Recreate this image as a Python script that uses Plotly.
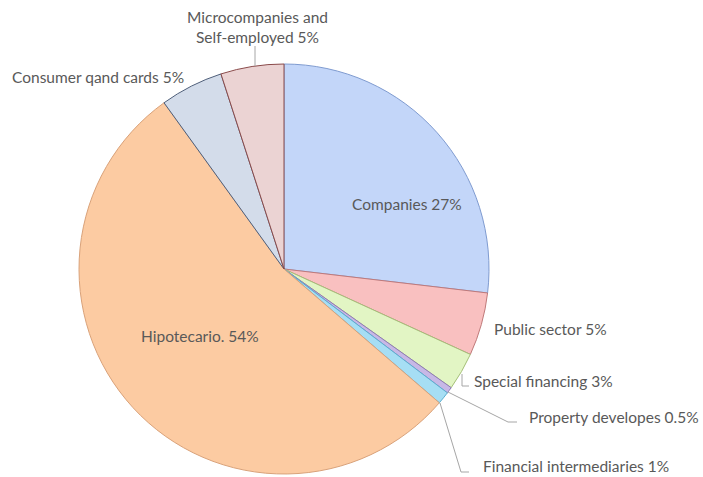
import plotly.graph_objects as go

labels = ["Companies", "Public sector", "Special financing", "Property developes",
          "Financial intermediaries", "Hipotecario.", "Consumer qand cards",
          "Microcompanies and Self-employed"]
values = [27, 5, 3, 0.5, 1, 54, 5, 5]
pct_text = ["27%", "5%", "3%", "0.5%", "1%", "54%", "5%", "5%"]

fill_colors = ["#c3d6f9", "#f9c0c0", "#e2f5c4", "#c7b8e6", "#a6def4",
               "#fccba2", "#d3dcea", "#ebd3d3"]
line_colors = ["#7f9bd0", "#c07a7a", "#a6c07a", "#8e7bb8", "#5aaed0",
               "#d9a27a", "#4f5f7a", "#8a4a4a"]

W, H = 703, 477
cx, cy, r = 284, 269, 205

fig = go.Figure(go.Pie(
    labels=labels, values=values, sort=False, direction="clockwise", rotation=0,
    textinfo="none", hoverinfo="label+percent", showlegend=False,
    marker=dict(colors=fill_colors, line=dict(color=line_colors, width=1)),
    domain=dict(x=[(cx - r) / W, (cx + r) / W], y=[1 - (cy + r) / H, 1 - (cy - r) / H]),
))

txt_font = dict(family="Lato, Open Sans, sans-serif", size=15.5, color="#595959")

# label positions in pixels (x, y, anchor)
label_pos = [
    (407, 204, "center"),
    (492, 329, "left"),
    (472, 381, "left"),
    (527, 417, "left"),
    (481, 466, "left"),
    (200, 336, "center"),
    (10, 77, "left"),
    (257, 27, "center"),
]
annotations = []
for i, (px, py, anc) in enumerate(label_pos):
    name = labels[i]
    if name.startswith("Microcompanies"):
        text = "Microcompanies and<br>Self-employed " + pct_text[i]
    else:
        text = name + " " + pct_text[i]
    annotations.append(dict(x=px / W, y=1 - py / H, xref="paper", yref="paper",
                            text=text, showarrow=False, xanchor=anc, yanchor="middle",
                            font=txt_font, align="center"))

# leader lines (pixel paths)
leaders = [
    [(255, 46), (255, 66)],
    [(462, 374), (462, 386), (469, 386)],
    [(448, 392), (508, 422), (517, 422)],
    [(440, 403), (461, 472), (469, 472)],
]
shapes = []
for pts in leaders:
    path = "M " + " L ".join(f"{x / W} {1 - y / H}" for x, y in pts)
    shapes.append(dict(type="path", xref="paper", yref="paper", path=path,
                       line=dict(color="#a6a6a6", width=1)))

fig.update_layout(width=W, height=H, margin=dict(l=0, r=0, t=0, b=0),
                  paper_bgcolor="white", plot_bgcolor="white",
                  annotations=annotations, shapes=shapes)
fig.write_html("out.html", config={"displayModeBar": False},
               post_script="document.body.style.margin='0px';")
